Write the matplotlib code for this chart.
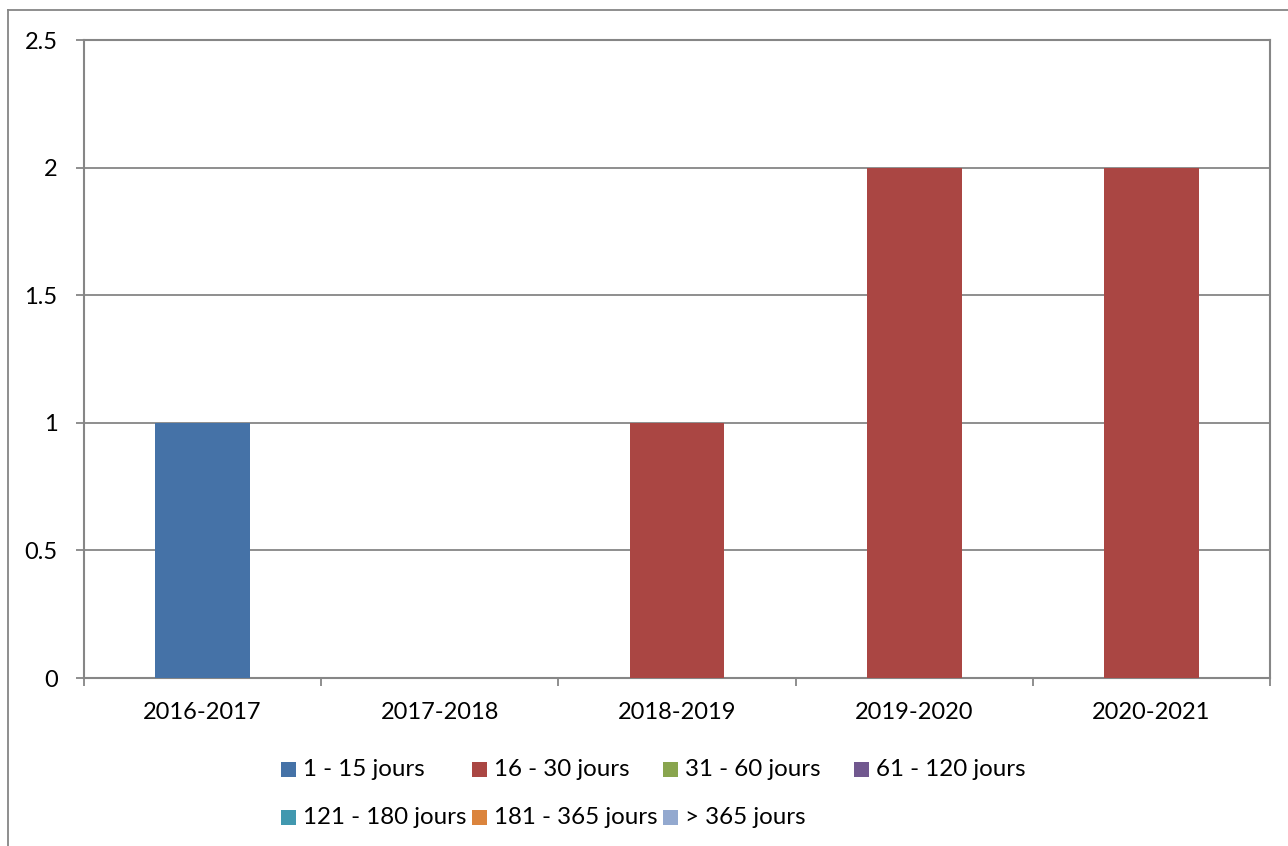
import matplotlib.pyplot as plt
import numpy as np
from matplotlib.lines import Line2D
from matplotlib.patches import Rectangle
from matplotlib.ticker import FixedLocator, FuncFormatter

plt.rcParams["font.family"] = ["Lato", "DejaVu Sans"]

seasons = ["2016-2017", "2017-2018", "2018-2019", "2019-2020", "2020-2021"]
series_names = [
    "1 - 15 jours", "16 - 30 jours", "31 - 60 jours", "61 - 120 jours",
    "121 - 180 jours", "181 - 365 jours", "> 365 jours",
]
series_colors = ["#4572A7", "#AA4643", "#89A54E", "#71588F", "#4198AF", "#DB843D", "#93A9CF"]
v_1_15 = [1, 0, 0, 0, 0]
v_16_30 = [0, 0, 1, 2, 2]
v_31_60 = [0, 0, 0, 0, 0]
v_61_120 = [0, 0, 0, 0, 0]
v_121_180 = [0, 0, 0, 0, 0]
v_181_365 = [0, 0, 0, 0, 0]
v_365 = [0, 0, 0, 0, 0]
series_values = [v_1_15, v_16_30, v_31_60, v_61_120, v_121_180, v_181_365, v_365]

W, H = 1288, 846
GRAY = "#868686"
FS = 17

fig = plt.figure(figsize=(W / 100, H / 100), dpi=100, facecolor="white")
ax = fig.add_axes([84 / W, 1 - 678 / H, (1270 - 84) / W, (678 - 40) / H])

x = np.arange(len(seasons))
bottom = np.zeros(len(seasons))
for name, vals, col in zip(series_names, series_values, series_colors):
    vals = np.array(vals, dtype=float)
    ax.bar(x, vals, width=0.4, bottom=bottom, color=col, label=name, zorder=3)
    bottom += vals

ax.set_xlim(-0.5, len(seasons) - 0.5)
ax.set_ylim(0, 2.5)
ax.set_yticks(np.arange(0, 2.51, 0.5))
ax.yaxis.set_major_formatter(FuncFormatter(lambda v, p: f"{v:g}"))
ax.grid(axis="y", color=GRAY, linewidth=1.3, zorder=1)

ax.set_xticks(x)
ax.set_xticklabels(seasons)
ax.xaxis.set_minor_locator(FixedLocator(np.arange(-0.5, len(seasons), 1.0)))
ax.tick_params(axis="x", which="major", length=0, pad=17, labelsize=FS)
ax.tick_params(axis="x", which="minor", length=6, width=1.3, color=GRAY)
ax.tick_params(axis="y", length=6, width=1.3, color=GRAY, pad=13, labelsize=FS)

for spine in ax.spines.values():
    spine.set_color(GRAY)
    spine.set_linewidth(1.5)

# outer chart border (left and top edges visible)
fig.add_artist(Line2D([8 / W, 8 / W], [0, 1 - 10 / H], color=GRAY, linewidth=1.3))
fig.add_artist(Line2D([8 / W, 1], [1 - 10 / H, 1 - 10 / H], color=GRAY, linewidth=1.3))

# legend: Excel-style grid, 4 columns of equal width, two rows
col_x = [281, 472, 663, 854]
row_y = [769, 817]
for i, (name, col) in enumerate(zip(series_names, series_colors)):
    px, py = col_x[i % 4], row_y[i // 4]
    fig.add_artist(Rectangle((px / W, 1 - (py + 7.5) / H), 15 / W, 15 / H,
                             facecolor=col, edgecolor="none", transform=fig.transFigure))
    fig.text((px + 22) / W, 1 - py / H, name, fontsize=FS + 0.4, va="center", ha="left")

fig.savefig("out.png", dpi=100, facecolor="white")
